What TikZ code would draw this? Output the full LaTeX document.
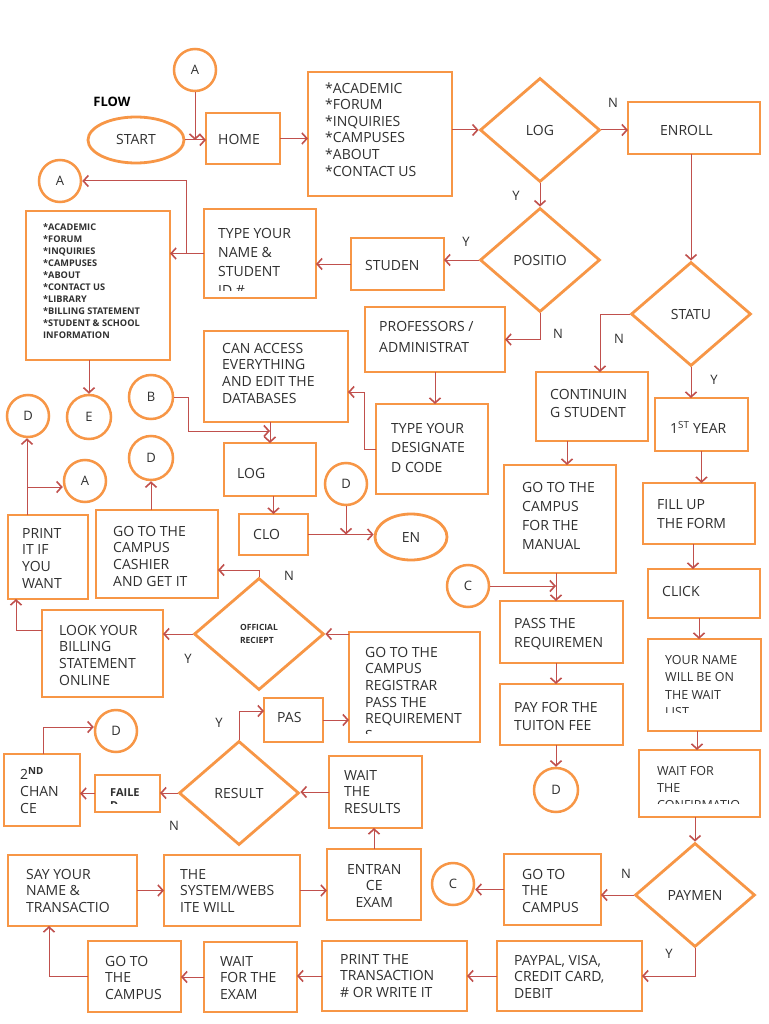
\documentclass[tikz,border=0pt]{standalone}
\usepackage{fontspec}
\setmainfont{Open Sans}
\usetikzlibrary{arrows.meta,shapes.geometric,calc}
\definecolor{orng}{HTML}{F79646}
\definecolor{arr}{HTML}{C0504D}
\definecolor{txtc}{HTML}{303030}
\tikzset{
  box/.style={draw=orng, line width=2.8pt, inner sep=0pt, outer sep=0pt, rectangle},
  txt/.style={inner sep=0pt, align=left, text=txtc, font=\fontsize{14}{16.6}\selectfont},
  circ/.style={circle, draw=orng, line width=2.5pt, minimum size=42pt, inner sep=0pt, text=txtc, font=\fontsize{13}{15}\selectfont},
  ell/.style={ellipse, draw=orng, line width=2.8pt, inner sep=0pt, text=txtc, font=\fontsize{14}{16}\selectfont},
  dia/.style={diamond, draw=orng, line width=2.8pt, inner sep=0pt, text=txtc, font=\fontsize{14}{16}\selectfont, minimum width=120pt, minimum height=104pt},
  con/.style={draw=arr, line width=1pt, -{Straight Barb[length=5pt,width=11pt,line width=1.6pt]}},
  lab/.style={text=txtc, font=\fontsize{13}{15}\selectfont, inner sep=0pt},
}
\def\bxin{8}
% \bx[text opts]{name}{x1}{y1}{x2}{y2}{text x}{first baseline y}{text}
\newcommand\bx[9][]{%
  \node[box, minimum width={(#5-#3)*1pt}, minimum height={(#6-#4)*1pt}] (#2) at ({(#3+#5)/2},{(#4+#6)/2}) {};
  \begin{scope}
    \clip (#3,#4) rectangle (#5,{#6-\bxin});
    \node[txt, anchor=north west, #1] (#2-t) at (#7,{#8-11}) {\rule{0pt}{11pt}#9};
  \end{scope}}
\begin{document}
\begin{tikzpicture}[x=1pt,y=-1pt]
\fill[white] (0,0) rectangle (768,1024);
\useasboundingbox (0,0) rectangle (768,1024);

% title
\node[text=black, font=\bfseries\fontsize{13}{15}\selectfont, inner sep=0pt] (FLOWl) at (112,102) {FLOW};

% circles
\node[circ] (A1) at (195,70) {A};
\node[circ] (A2) at (60,181) {A};
\node[circ, minimum size=44pt] (E) at (89,417) {E};
\node[circ] (D1) at (28,416) {D};
\node[circ] (A3) at (85,481) {A};
\node[circ, minimum size=44pt] (B) at (151,397) {B};
\node[circ, minimum size=44pt] (D2) at (151,458) {D};
\node[circ] (D3) at (346,484) {D};
\node[circ] (C1) at (468,586) {C};
\node[circ, minimum size=44pt] (D5) at (556,790) {D};
\node[circ] (D4) at (116,731) {D};
\node[circ] (C2) at (453,884) {C};

% ellipses
\node[ell, minimum width=96pt, minimum height=46pt] (START) at (136,140) {START};
\node[ell, minimum width=72pt, minimum height=46pt] (EN) at (411,537) {EN};

% diamonds
\node[dia] (LOG1) at (540,130) {LOG};
\node[dia] (POS) at (540,260) {POSITIO};
\node[dia] (STATU) at (691,314) {STATU};
\node[dia, minimum width=130pt, minimum height=112pt, font=\bfseries\fontsize{8.5}{13}\selectfont, align=left] (OR) at (259,634) {OFFICIAL\\RECIEPT};
\node[dia] (RES) at (239,793) {RESULT};
\node[dia] (PAYM) at (695,895) {PAYMEN};

% boxes
\bx{HOME}{206}{113}{280}{164}{218}{144}{HOME}
\bx{MENU1}{308}{72}{452}{196}{325}{93}{*ACADEMIC\\*FORUM\\*INQUIRIES\\*CAMPUSES\\*ABOUT\\*CONTACT US}
\bx{ENROLL}{628}{102}{760}{154}{660}{135}{ENROLL}
\bx{STUDEN}{351}{238}{444}{290}{365}{270}{STUDEN}
\bx[font=\fontsize{14}{19}\selectfont]{TYPEN}{204}{209}{316}{298}{218}{238}{TYPE YOUR\\NAME \&\\STUDENT\\ID \#}
\bx[font=\bfseries\fontsize{9.2}{12}\selectfont]{MENU2}{26}{211}{170}{360}{43}{230.5}{*ACADEMIC\\*FORUM\\*INQUIRIES\\*CAMPUSES\\*ABOUT\\*CONTACT US\\*LIBRARY\\*BILLING STATEMENT\\*STUDENT \& SCHOOL\\INFORMATION}
\bx{CANACC}{204}{331}{348}{422}{222}{353}{CAN ACCESS\\EVERYTHING\\AND EDIT THE\\DATABASES}
\bx[font=\fontsize{14}{21}\selectfont]{PROF}{365}{307}{505}{372}{379}{331}{PROFESSORS /\\ADMINISTRAT}
\bx[font=\fontsize{14}{19.5}\selectfont]{TYPED}{376}{404}{488}{494}{391}{433}{TYPE YOUR\\DESIGNATE\\D CODE}
\bx{LOG2}{224}{443}{316}{496}{237}{478}{LOG}
\bx{CLO}{239}{514}{308}{555}{253}{539}{CLO}
\bx{PRINT}{8}{515}{88}{599}{22}{538}{PRINT\\IT IF\\YOU\\WANT}
\bx{CASH}{96}{510}{218}{598}{113}{536}{GO TO THE\\CAMPUS\\CASHIER\\AND GET IT}
\bx[font=\fontsize{14}{18.5}\selectfont]{CONT}{536}{372}{648}{441}{550}{399}{CONTINUIN\\G STUDENT}
\bx{YEAR1}{655}{398}{748}{451}{670}{432}{1\textsuperscript{ST} YEAR}
\bx[font=\fontsize{14}{19}\selectfont]{MANUAL}{504}{465}{616}{573}{522}{492}{GO TO THE\\CAMPUS\\FOR THE\\MANUAL}
\bx[font=\fontsize{14}{19}\selectfont]{FILL}{643}{483}{755}{544}{657}{509}{FILL UP\\THE FORM}
\bx{CLICK}{648}{569}{760}{618}{662}{596}{CLICK}
\bx[font=\fontsize{14}{19}\selectfont]{PASS}{500}{601}{623}{663}{514}{628}{PASS THE\\REQUIREMEN}
\bx[font=\fontsize{14}{18.5}\selectfont]{PAY}{500}{684}{623}{745}{514}{712}{PAY FOR THE\\TUITON FEE}
\def\bxin{19}
\bx[font=\fontsize{12.5}{17.5}\selectfont]{YNAME}{648}{639}{761}{731}{665}{664}{YOUR NAME\\WILL BE ON\\THE WAIT\\LIST}
\def\bxin{14}
\bx[font=\fontsize{12.5}{17}\selectfont]{WAITC}{639}{750}{760}{817}{657}{775}{WAIT FOR\\THE\\CONFIRMATIO}
\def\bxin{9}
\bx{REG}{349}{632}{480}{742}{365}{657}{GO TO THE\\CAMPUS\\REGISTRAR\\PASS THE\\REQUIREMENT\\S}
\bx[font=\bfseries\fontsize{11}{13.5}\selectfont]{FAIL}{95}{775}{160}{812}{110}{796}{FAILE\\D}
\def\bxin{8}
\bx{LOOK}{42}{610}{163}{697}{59}{635}{LOOK YOUR\\BILLING\\STATEMENT\\ONLINE}
\bx{PAS}{264}{698}{323}{742}{277}{722}{PAS}
\bx[font=\fontsize{14}{17}\selectfont]{SECOND}{4}{754}{80}{826}{20}{778}{2\textsuperscript{\bfseries ND}\\CHAN\\CE}
\bx{WAITR}{329}{756}{422}{828}{344}{780}{WAIT\\THE\\RESULTS}
\bx{SAY}{8}{855}{137}{926}{26}{879}{SAY YOUR\\NAME \&\\TRANSACTIO}
\bx{SYS}{164}{855}{300}{926}{180}{879}{THE\\SYSTEM/WEBS\\ITE WILL}
\bx[align=center]{ENTR}{327}{849}{421}{920}{347}{874}{ENTRAN\\CE\\EXAM}
\bx{GOCR}{504}{854}{601}{925}{522}{879}{GO TO\\THE\\CAMPUS}
\bx{PAYPAL}{497}{941}{642}{1011}{514}{965}{PAYPAL, VISA,\\CREDIT CARD,\\DEBIT}
\bx{PRINTT}{322}{941}{467}{1011}{340}{964}{PRINT THE\\TRANSACTION\\\# OR WRITE IT}
\bx{WAITE}{204}{942}{297}{1012}{220}{966}{WAIT\\FOR THE\\EXAM}
\bx{GOCL}{88}{941}{181}{1012}{105}{966}{GO TO\\THE\\CAMPUS}

% bend coordinates
\coordinate (j1) at ($(TYPEN.west)+(-18,0)$);
\coordinate (j2) at (364,392);
\coordinate (j3) at (188,431);
\coordinate (j4) at (600,0);
\coordinate (j5) at (567,0);
\coordinate (j6) at (556,0);
\coordinate (j7) at (693,0);
\coordinate (j8) at (699,0);
\coordinate (j9) at (697,0);
\coordinate (j10) at (49,0);
\coordinate (j11) at (43,727);
\coordinate (j12) at (239,711);
\coordinate (j14) at (259,570);
\coordinate (j15) at (16,630);
\coordinate (j16) at (27,487);

% connectors
\draw[con] (START.east) -- (START.east -| HOME.west);
\draw[con] (A1.south) -- (A1.south |- START.east);
\draw[con] (HOME.east) -- (HOME.east -| MENU1.west);
\draw[con] (MENU1.east |- LOG1.west) -- (LOG1.west);
\draw[con] (LOG1.east) -- (LOG1.east -| ENROLL.west);
\draw[con] (LOG1.south) -- (POS.north);
\draw[con] (STATU.north |- ENROLL.south) -- (STATU.north);
\draw[con] (POS.west) -- (POS.west -| STUDEN.east);
\draw[con] (STUDEN.west) -- (STUDEN.west -| TYPEN.east);
\draw[con] (TYPEN.west) -- (TYPEN.west -| MENU2.east);
\draw[con] (j1) |- (A2.east);
\draw[con] (E.north |- MENU2.south) -- (E.north);
\draw[con] (POS.south) |- (PROF.east);
\draw[con] (PROF.south) -- (PROF.south |- TYPED.north);
\draw[con] (TYPED.west) -| (j2) -- (j2 -| CANACC.east);
\draw[con] (LOG2.north |- CANACC.south) -- (LOG2.north);
\draw[con] (B.east) -| (j3) -- (j3 -| LOG2.north);
\draw[con] (CLO.north |- LOG2.south) -- (CLO.north);
\draw[con] (CLO.east) -- (CLO.east -| EN.west);
\draw[con] (D3.south) -- (D3.south |- CLO.east);
\draw[con] (STATU.west) -- (STATU.west -| j4) -- (j4 |- CONT.north);
\draw[con] (STATU.south) -- (STATU.south |- YEAR1.north);
\draw[con] (j5 |- CONT.south) -- (j5 |- MANUAL.north);
\draw[con] (j6 |- MANUAL.south) -- (j6 |- PASS.north);
\draw[con] (C1.east) -- (C1.east -| j6);
\draw[con] (j6 |- PASS.south) -- (j6 |- PAY.north);
\draw[con] (D5.north |- PAY.south) -- (D5.north);
\draw[con] (YEAR1.south) -- (YEAR1.south |- FILL.north);
\draw[con] (j7 |- FILL.south) -- (j7 |- CLICK.north);
\draw[con] (j8 |- CLICK.south) -- (j8 |- YNAME.north);
\draw[con] (j9 |- YNAME.south) -- (j9 |- WAITC.north);
\draw[con] (PAYM.north |- WAITC.south) -- (PAYM.north);
\draw[con] (PAYM.west) -- (PAYM.west -| GOCR.east);
\draw[con] (GOCR.west) -- (GOCR.west -| C2.east);
\draw[con] (PAYM.south) |- (PAYPAL.east);
\draw[con] (PAYPAL.west) -- (PAYPAL.west -| PRINTT.east);
\draw[con] (PRINTT.west) -- (PRINTT.west -| WAITE.east);
\draw[con] (WAITE.west) -- (WAITE.west -| GOCL.east);
\draw[con] (GOCL.west) -- (GOCL.west -| j10) -- (j10 |- SAY.south);
\draw[con] (SAY.east) -- (SAY.east -| SYS.west);
\draw[con] (SYS.east) -- (SYS.east -| ENTR.west);
\draw[con] (ENTR.north) -- (ENTR.north |- WAITR.south);
\draw[con] (WAITR.west) -- (WAITR.west -| RES.east);
\draw[con] (RES.west) -- (RES.west -| FAIL.east);
\draw[con] (FAIL.west) -- (FAIL.west -| SECOND.east);
\draw[con] (j11 |- SECOND.north) -- (j11) -- (j11 -| D4.west);
\draw[con] (RES.north) -- (j12) -- (j12 -| PAS.west);
\draw[con] (PAS.east) -- (PAS.east -| REG.west);
\draw[con] (REG.west |- OR.east) -- (OR.east);
\draw[con] (OR.north) -- (j14) -- (j14 -| CASH.east);
\draw[con] (OR.west) -- (OR.west -| LOOK.east);
\draw[con] (LOOK.west |- j15) -- (j15) -- (j15 |- PRINT.south);
\draw[con] (j16 |- PRINT.north) -- (j16 |- D1.south);
\draw[con] (j16) -- (j16 -| A3.west);
\draw[con] (D2.south |- CASH.north) -- (D2.south);

% Y / N labels
\node[lab] (l1) at (613,103) {N};
\node[lab] (l2) at (516,196) {Y};
\node[lab] (l3) at (466,242) {Y};
\node[lab] (l4) at (558,334) {N};
\node[lab] (l5) at (619,339) {N};
\node[lab] (l6) at (714,380) {Y};
\node[lab] (l7) at (289,576) {N};
\node[lab] (l8) at (188,659) {Y};
\node[lab] (l9) at (219,723) {Y};
\node[lab] (l10) at (174,826) {N};
\node[lab] (l11) at (626,874) {N};
\node[lab] (l12) at (669,954) {Y};
\end{tikzpicture}
\end{document}
